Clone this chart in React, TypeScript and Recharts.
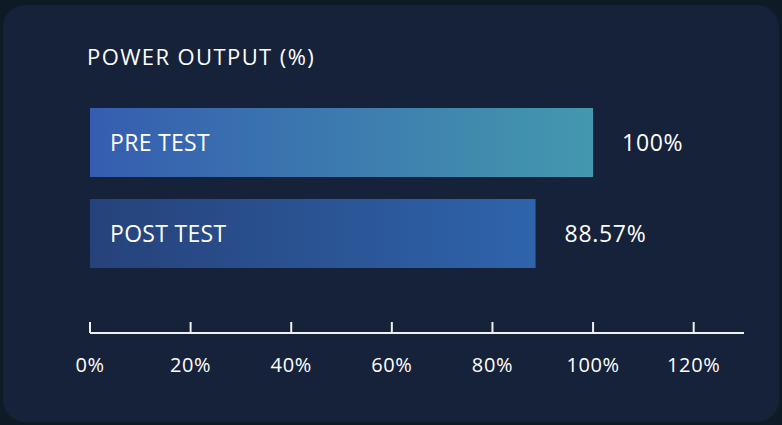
import { Bar, BarChart, Cell, LabelList, XAxis, YAxis } from "recharts";

const categories = ["PRE TEST", "POST TEST"];
const outputValues = [100, 88.57];
const valueLabels = ["100%", "88.57%"];
const axisTicks = [0, 20, 40, 60, 80, 100, 120];

const gradients = [
  { id: "preGrad", from: "#355db0", to: "#4498ae" },
  { id: "postGrad", from: "#26427a", to: "#2e64ac" }
];

const data = categories.map((name, i) => ({
  name,
  value: outputValues[i],
  label: valueLabels[i]
}));

const FONT = "'Open Sans', 'Noto Sans', sans-serif";

export default function App() {
  return (
    <div
      style={{
        position: "absolute",
        left: 0,
        top: 0,
        width: 782,
        height: 425,
        background: "#0e1a26",
        fontFamily: FONT,
        overflow: "hidden"
      }}
    >
      <div
        style={{
          position: "absolute",
          left: 3,
          top: 5,
          width: 776,
          height: 417,
          borderRadius: 22,
          background: "#16223a"
        }}
      />
      <div
        style={{
          position: "absolute",
          left: 87,
          top: 41,
          color: "#ffffff",
          fontSize: 22,
          letterSpacing: 1.4,
          lineHeight: "30px",
          whiteSpace: "nowrap"
        }}
      >
        POWER OUTPUT (%)
      </div>
      <div style={{ position: "absolute", left: 0, top: 0 }}>
        <BarChart
          width={782}
          height={425}
          data={data}
          layout="vertical"
          margin={{ top: 97, right: 38, bottom: 32, left: 90 }}
          barCategoryGap={11}
        >
          <defs>
            {gradients.map((g) => (
              <linearGradient key={g.id} id={g.id} x1="0" y1="0" x2="1" y2="0">
                <stop offset="0%" stopColor={g.from} />
                <stop offset="100%" stopColor={g.to} />
              </linearGradient>
            ))}
          </defs>
          <YAxis type="category" dataKey="name" hide padding={{ top: 0, bottom: 54 }} />
          <XAxis
            type="number"
            domain={[0, 130]}
            ticks={axisTicks}
            tickFormatter={(v: number) => `${v}%`}
            height={60}
            axisLine={{ stroke: "#eef0f4", strokeWidth: 2 }}
            tickLine={{ stroke: "#eef0f4", strokeWidth: 2 }}
            tickSize={-11}
            tickMargin={36}
            tick={{ fill: "#ffffff", fontSize: 20, fontFamily: FONT, letterSpacing: 0.6 }}
            interval={0}
          />
          <Bar dataKey="value" isAnimationActive={false}>
            {data.map((d, i) => (
              <Cell key={d.name} fill={`url(#${gradients[i].id})`} />
            ))}
            <LabelList
              dataKey="name"
              position="insideLeft"
              offset={20}
              fill="#ffffff"
              fontSize={23}
              fontFamily={FONT}
              style={{ letterSpacing: 0.3 }}
            />
            <LabelList
              dataKey="label"
              position="right"
              offset={29}
              fill="#ffffff"
              fontSize={23}
              fontFamily={FONT}
              style={{ letterSpacing: 0.7 }}
            />
          </Bar>
        </BarChart>
      </div>
    </div>
  );
}
